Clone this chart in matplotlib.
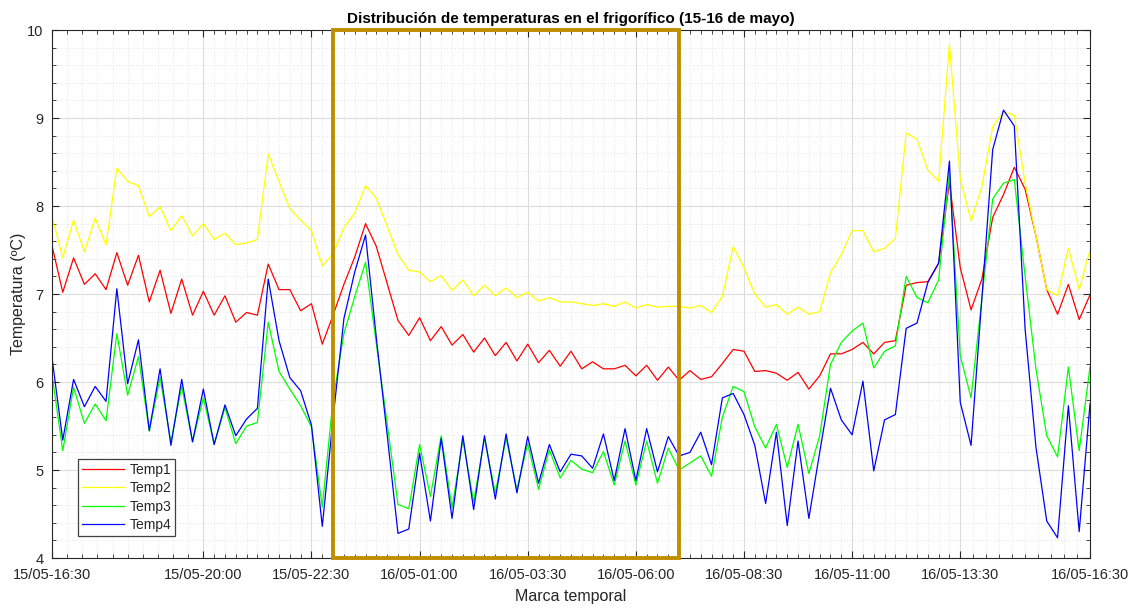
import numpy as np
import pandas as pd
import matplotlib
matplotlib.use("Agg")
import matplotlib.pyplot as plt
import matplotlib.dates as mdates
from matplotlib.patches import Rectangle
from matplotlib.ticker import FixedLocator, MultipleLocator

plt.rcParams["font.family"] = ["Liberation Sans", "DejaVu Sans"]

# Lecturas cada 15 minutos, 15/05 16:30 -> 16/05 16:30
times = pd.date_range("2023-05-15 16:30", periods=97, freq="15min")

temp1 = [7.55, 7.02, 7.41, 7.11, 7.23, 7.05, 7.47, 7.10, 7.44, 6.91,
         7.27, 6.78, 7.17, 6.76, 7.03, 6.76, 6.98, 6.68, 6.79, 6.76,
         7.34, 7.05, 7.05, 6.81, 6.89, 6.43, 6.76, 7.11, 7.42, 7.80,
         7.54, 7.12, 6.70, 6.53, 6.73, 6.47, 6.63, 6.42, 6.54, 6.34,
         6.50, 6.30, 6.45, 6.24, 6.43, 6.22, 6.36, 6.18, 6.35, 6.15,
         6.23, 6.15, 6.15, 6.19, 6.07, 6.19, 6.02, 6.17, 6.02, 6.13,
         6.03, 6.06, 6.21, 6.37, 6.35, 6.12, 6.13, 6.10, 6.02, 6.11,
         5.92, 6.07, 6.32, 6.32, 6.37, 6.45, 6.32, 6.45, 6.47, 7.10,
         7.13, 7.14, 7.35, 8.27, 7.30, 6.82, 7.17, 7.87, 8.13, 8.44,
         8.19, 7.66, 7.05, 6.77, 7.11, 6.71, 6.99]

temp2 = [7.88, 7.41, 7.84, 7.48, 7.86, 7.56, 8.43, 8.28, 8.23, 7.88,
         7.99, 7.72, 7.89, 7.66, 7.80, 7.62, 7.69, 7.56, 7.58, 7.62,
         8.59, 8.28, 7.97, 7.84, 7.72, 7.32, 7.46, 7.75, 7.92, 8.23,
         8.09, 7.77, 7.45, 7.27, 7.25, 7.14, 7.21, 7.04, 7.16, 6.98,
         7.10, 6.98, 7.07, 6.96, 7.02, 6.92, 6.96, 6.91, 6.91, 6.89,
         6.87, 6.89, 6.86, 6.91, 6.84, 6.88, 6.85, 6.86, 6.86, 6.84,
         6.87, 6.79, 6.97, 7.54, 7.30, 7.00, 6.85, 6.88, 6.77, 6.85,
         6.77, 6.80, 7.24, 7.45, 7.72, 7.72, 7.48, 7.52, 7.63, 8.83,
         8.76, 8.41, 8.28, 9.84, 8.31, 7.83, 8.22, 8.90, 9.07, 9.03,
         8.26, 7.66, 7.05, 6.98, 7.52, 7.05, 7.50]

temp3 = [6.09, 5.22, 5.94, 5.53, 5.75, 5.56, 6.55, 5.85, 6.29, 5.44,
         6.05, 5.32, 5.95, 5.32, 5.82, 5.29, 5.71, 5.30, 5.50, 5.54,
         6.68, 6.12, 5.92, 5.73, 5.49, 4.58, 5.80, 6.55, 6.97, 7.36,
         6.43, 5.53, 4.61, 4.56, 5.29, 4.70, 5.39, 4.57, 5.34, 4.64,
         5.36, 4.74, 5.36, 4.78, 5.30, 4.78, 5.23, 4.91, 5.11, 5.01,
         4.97, 5.21, 4.83, 5.33, 4.83, 5.33, 4.85, 5.25, 5.00, 5.08,
         5.16, 4.93, 5.60, 5.95, 5.89, 5.49, 5.25, 5.52, 5.03, 5.52,
         4.96, 5.39, 6.20, 6.45, 6.58, 6.67, 6.16, 6.35, 6.41, 7.20,
         6.96, 6.90, 7.16, 8.38, 6.30, 5.82, 6.95, 8.08, 8.26, 8.30,
         7.20, 6.15, 5.39, 5.15, 6.17, 5.22, 6.17]

temp4 = [6.28, 5.34, 6.03, 5.72, 5.95, 5.78, 7.06, 5.98, 6.48, 5.45,
         6.15, 5.28, 6.03, 5.32, 5.92, 5.29, 5.74, 5.39, 5.58, 5.70,
         7.17, 6.47, 6.05, 5.90, 5.51, 4.36, 5.59, 6.72, 7.25, 7.67,
         6.50, 5.40, 4.28, 4.33, 5.19, 4.42, 5.36, 4.45, 5.39, 4.55,
         5.39, 4.67, 5.41, 4.74, 5.38, 4.85, 5.29, 4.98, 5.18, 5.16,
         5.02, 5.41, 4.88, 5.47, 4.88, 5.47, 4.98, 5.38, 5.16, 5.20,
         5.43, 5.06, 5.82, 5.87, 5.63, 5.28, 4.62, 5.43, 4.37, 5.33,
         4.45, 5.20, 5.93, 5.57, 5.40, 6.01, 4.99, 5.57, 5.63, 6.61,
         6.67, 7.13, 7.35, 8.51, 5.77, 5.28, 6.95, 8.64, 9.09, 8.91,
         6.60, 5.26, 4.42, 4.23, 5.73, 4.30, 5.75]

series_names = ["Temp1", "Temp2", "Temp3", "Temp4"]
series_colors = ["#ff0000", "#ffff00", "#00ff00", "#0000ff"]

tick_times = pd.to_datetime([
    "2023-05-15 16:30", "2023-05-15 20:00", "2023-05-15 22:30",
    "2023-05-16 01:00", "2023-05-16 03:30", "2023-05-16 06:00",
    "2023-05-16 08:30", "2023-05-16 11:00", "2023-05-16 13:30",
    "2023-05-16 16:30"])

# periodo nocturno resaltado
night_start = pd.Timestamp("2023-05-15 23:00")
night_end = pd.Timestamp("2023-05-16 07:00")

fig = plt.figure(figsize=(11.32, 6.10), dpi=100)
ax = fig.add_axes([0.0459, 0.0852, 0.9170, 0.8656])

for vals, name, col in zip([temp1, temp2, temp3, temp4], series_names, series_colors):
    ax.plot(times, vals, color=col, lw=0.9, label=name)

x0 = mdates.date2num(times[0])
x1 = mdates.date2num(times[-1])
ax.set_xlim(x0, x1)
ax.set_ylim(4, 10)

major = mdates.date2num(tick_times)
minor = np.concatenate([np.linspace(a, b, 11)[1:-1] for a, b in zip(major[:-1], major[1:])])
ax.xaxis.set_major_locator(FixedLocator(major))
ax.xaxis.set_minor_locator(FixedLocator(minor))
ax.xaxis.set_major_formatter(mdates.DateFormatter("%d/%m-%H:%M"))
ax.yaxis.set_major_locator(MultipleLocator(1))
ax.yaxis.set_minor_locator(MultipleLocator(0.2))

ax.grid(which="major", color="#dcdcdc", lw=0.8, ls="-")
ax.grid(which="minor", color="#cccccc", lw=0.5, ls=(0, (1, 3)))
ax.set_axisbelow(True)

ax.tick_params(which="both", direction="in", top=True, right=True,
               colors="#262626", labelsize=10.5, labelcolor="#262626")
ax.tick_params(which="major", length=5, width=0.8)
ax.tick_params(which="minor", length=3, width=0.6)
ax.tick_params(axis="x", which="major", pad=7)
ax.tick_params(axis="y", which="major", pad=6)
for sp in ax.spines.values():
    sp.set_color("#262626")
    sp.set_linewidth(0.8)

ax.add_patch(Rectangle((mdates.date2num(night_start), 4.0),
                       mdates.date2num(night_end) - mdates.date2num(night_start), 6.0,
                       fill=False, edgecolor="#bf8f00", lw=2.8, zorder=5,
                       clip_on=False))

ax.set_title("Distribución de temperaturas en el frigorífico (15-16 de mayo)",
             fontsize=11, fontweight="bold", color="black", pad=5)
ax.set_xlabel("Marca temporal", fontsize=11.5, color="#262626", labelpad=5)
ax.set_ylabel("Temperatura (ºC)", fontsize=11.5, color="#262626", labelpad=1)

leg = ax.legend(loc="lower left", bbox_to_anchor=(0.025, 0.042), fontsize=10,
                frameon=True, fancybox=False, framealpha=1, edgecolor="#404040",
                handlelength=3.0, handletextpad=0.4, labelspacing=0.3,
                borderpad=0.3, borderaxespad=0)
leg.get_frame().set_linewidth(0.9)
for t in leg.get_texts():
    t.set_color("#262626")

fig.savefig("out.png", dpi=100)
